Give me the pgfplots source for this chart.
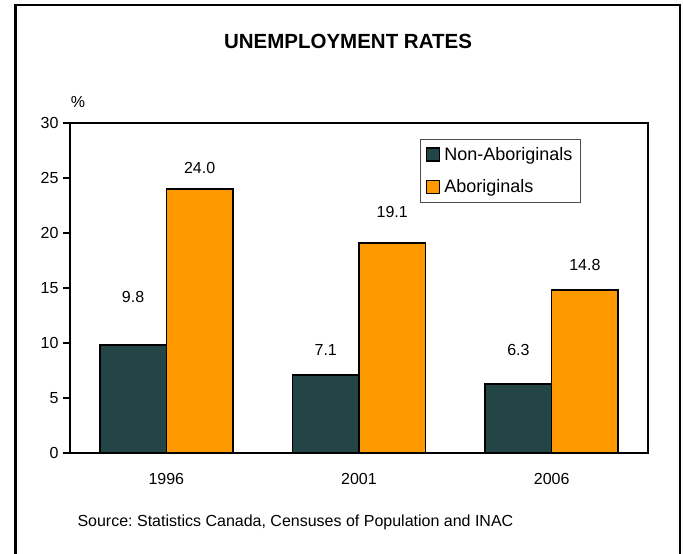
\documentclass[border=0pt]{standalone}
\usepackage{fontspec}
\setmainfont{Liberation Sans}
\usepackage{pgfplots}
\pgfplotsset{compat=1.18}
\definecolor{darkbar}{HTML}{234545}
\definecolor{orangebar}{HTML}{FF9900}
\frenchspacing
\begin{document}
\begin{tikzpicture}
\useasboundingbox (0pt,0pt) rectangle (683pt,-554pt);
\draw[line width=2.7pt] (15.5pt,-554pt) -- (15.5pt,-5pt) -- (680pt,-5pt) -- (680pt,-554pt);
\node[font=\bfseries\fontsize{20.5}{24}\selectfont, anchor=base] at (348pt,-48.3pt) {UNEMPLOYMENT RATES};
\node[font=\fontsize{16}{19}\selectfont] at (78pt,-102pt) {\%};
\node[font=\fontsize{16}{19}\selectfont, anchor=base west] at (74pt,-526pt) {Source: Statistics Canada, Censuses of Population and INAC};
\begin{axis}[
  at={(70pt,-453pt)}, anchor=south west,
  scale only axis, width=578pt, height=330pt,
  xmin=-0.5, xmax=2.5, ymin=0, ymax=30,
  ytick={0,5,10,15,20,25,30},
  xtick={0,1,2}, xticklabels={1996,2001,2006},
  xtick style={draw=none},
  ytick pos=left,
  tick align=outside,
  major tick length=7pt,
  ytick style={line width=2pt, black},
  axis line style={line width=2.7pt},
  /pgf/number format/assume math mode=true,
  ticklabel style={font=\fontsize{16}{19}\selectfont},
  xticklabel style={yshift=-10pt},
  yticklabel style={xshift=-1pt},
  legend style={at={(0.6055,0.9515)}, anchor=north west, draw=black!70, line width=0.8pt,
    font=\fontsize{18}{21}\selectfont, row sep=14pt, inner xsep=5.5pt, inner ysep=6pt},
  legend cell align=left,
  legend image code/.code={\draw[#1, draw=black, line width=1.5pt] (0pt,-6.5pt) rectangle (13pt,6.5pt); \path (15pt,0pt);},
  every node near coord/.append style={font=\fontsize{16}{19}\selectfont, anchor=center, black},
]
\addplot[ybar, bar width=66.5pt, bar shift=-33.25pt, fill=darkbar, draw=black, line width=1.6pt]
  coordinates {(0,9.8) (1,7.1) (2,6.3)};
\addplot[ybar, bar width=66.5pt, bar shift=33.25pt, fill=orangebar, draw=black, line width=1.6pt]
  coordinates {(0,24.0) (1,19.1) (2,14.8)};
\legend{Non-Aboriginals, Aboriginals}
% value labels (positions as placed in the original)
\addplot[ybar, forget plot, bar width=66.5pt, bar shift=-33.25pt, draw=none, fill=none,
  nodes near coords, point meta=explicit symbolic,
  every node near coord/.append style={xshift=-33.25pt}]
  coordinates {(0,14.18)[9.8] (1,9.36)[7.1] (2,9.36)[6.3]};
\addplot[ybar, forget plot, bar width=66.5pt, bar shift=33.25pt, draw=none, fill=none,
  nodes near coords, point meta=explicit symbolic,
  every node near coord/.append style={xshift=33.25pt}]
  coordinates {(0,25.9)[24.0] (1,21.9)[19.1] (2,17.1)[14.8]};
\end{axis}
\end{tikzpicture}
\end{document}
